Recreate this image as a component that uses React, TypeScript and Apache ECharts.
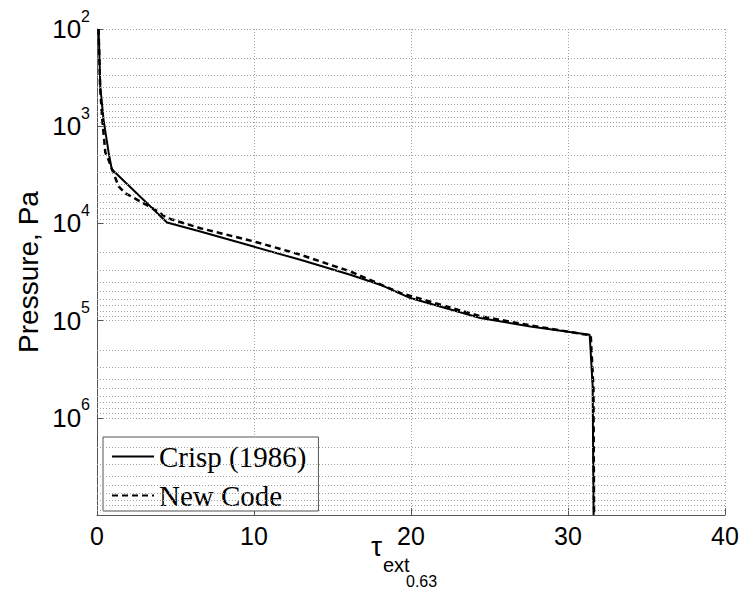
import React, { useEffect, useRef } from "react";
import * as echarts from "echarts";

// Crisp (1986) profile: extinction optical depth vs pressure (Pa)
const crispTau = [0.1, 0.15, 0.21, 0.42, 0.74, 0.94, 4.46, 6.58, 9.97, 12.95, 16.13, 18.04, 19.96, 24.41, 27.6, 31.38, 31.57, 31.63];
const crispP = [100, 178, 395, 865, 1860, 2770, 9800, 12100, 17300, 23700, 33700, 42700, 58600, 94000, 115000, 140000, 470000, 10000000];

// New Code profile
const newTau = [0.1, 0.2, 0.32, 0.53, 0.74, 1.0, 1.38, 1.8, 3.71, 4.46, 6.58, 9.97, 12.95, 16.13, 19.32, 24.4, 27.6, 31.45, 31.62, 31.66];
const newP = [100, 400, 795, 1860, 2230, 2900, 4170, 4890, 7250, 8800, 11200, 15300, 21000, 31200, 52000, 90000, 112000, 142000, 500000, 10000000];

const seriesNames = ["Crisp (1986)", "New Code"];

// Axis ranges
const xMin = 0;
const xMax = 40;
const xStep = 10;
const pMin = 100;
const pMax = 10000000;
const decades = [2, 3, 4, 5, 6];
const minorMultipliers = [2, 3, 4, 5, 6, 7, 8, 9];

const zip = (xs: number[], ys: number[]) => xs.map((x, i) => [x, ys[i]]);

export default function App() {
  const ref = useRef<HTMLDivElement>(null);

  useEffect(() => {
    if (!ref.current) return;
    const chart = echarts.init(ref.current, null, { renderer: "svg" });

    const minorValues: number[] = [];
    decades.forEach((d) => {
      minorMultipliers.forEach((m) => minorValues.push(m * Math.pow(10, d)));
    });

    const gridColor = "#a0a0a0";
    const gridDash = [1, 2];
    const axisColor = "#555";

    const option: any = {
      animation: false,
      backgroundColor: "#fff",
      grid: { left: 97, right: 17, top: 29, bottom: 77, containLabel: false },
      xAxis: {
        type: "value",
        min: xMin,
        max: xMax,
        interval: xStep,
        axisLine: { show: true, onZero: false, lineStyle: { color: axisColor, width: 1 } },
        axisTick: { show: true, inside: true, length: 7, lineStyle: { color: axisColor } },
        axisLabel: {
          margin: 8,
          color: "#000",
          fontFamily: "Liberation Sans",
          fontSize: 25,
          lineHeight: 26,
        },
        splitLine: { show: true, lineStyle: { type: gridDash, color: gridColor, width: 1 } },
      },
      yAxis: {
        type: "log",
        logBase: 10,
        min: pMin,
        max: pMax,
        inverse: true,
        axisLine: { show: true, onZero: false, lineStyle: { color: axisColor, width: 1 } },
        axisTick: { show: true, inside: true, length: 6, lineStyle: { color: axisColor } },
        axisLabel: {
          margin: 7,
          color: "#000",
          formatter: (v: number) => {
            const e = Math.round(Math.log10(v));
            if (e >= 7) return "";
            return `{b|10}{s|${e}}`;
          },
          rich: {
            b: { fontFamily: "Liberation Sans", fontSize: 26, lineHeight: 42, color: "#000" },
            s: { fontFamily: "Liberation Sans", fontSize: 16, lineHeight: 16, verticalAlign: "top", color: "#000" },
          },
        },
        splitLine: { show: true, lineStyle: { type: gridDash, color: gridColor, width: 1 } },
      },
      legend: {
        data: seriesNames,
        orient: "vertical",
        left: 103,
        top: 437,
        backgroundColor: "#fff",
        borderColor: axisColor,
        borderWidth: 1,
        borderRadius: 0,
        padding: [5, 12, 1, 8],
        itemWidth: 42,
        itemHeight: 14,
        itemGap: 10,
        itemStyle: { opacity: 0, color: "transparent", borderWidth: 0 },
        textStyle: { fontFamily: "Liberation Serif", fontSize: 29, lineHeight: 28, color: "#000" },
      },
      graphic: [
        {
          type: "text",
          x: 28,
          y: 272,
          rotation: Math.PI / 2,
          style: {
            text: "Pressure, Pa",
            fontFamily: "Liberation Sans",
            fontSize: 28,
            fill: "#000",
            align: "center",
            verticalAlign: "middle",
          },
        },
        {
          type: "text",
          x: 371,
          y: 546,
          style: { text: "τ", fontFamily: "Liberation Sans", fontSize: 28, fill: "#000", align: "left", verticalAlign: "middle" },
        },
        {
          type: "text",
          x: 383,
          y: 565,
          style: { text: "ext", fontFamily: "Liberation Sans", fontSize: 20, fill: "#000", align: "left", verticalAlign: "middle" },
        },
        {
          type: "text",
          x: 406,
          y: 581,
          style: { text: "0.63", fontFamily: "Liberation Sans", fontSize: 16, fill: "#000", align: "left", verticalAlign: "middle" },
        },
      ],
      series: [
        {
          name: "minor-grid",
          type: "line",
          data: [],
          silent: true,
          z: 1,
          markLine: {
            silent: true,
            symbol: ["none", "none"],
            label: { show: false },
            lineStyle: { type: gridDash, color: gridColor, width: 1 },
            emphasis: { disabled: true },
            data: minorValues.map((v) => ({ yAxis: v })),
          },
        },
        {
          name: seriesNames[0],
          type: "line",
          data: zip(crispTau, crispP),
          showSymbol: false,
          symbol: "none",
          z: 3,
          lineStyle: { color: "#000", width: 2, type: "solid" },
          itemStyle: { color: "#000" },
        },
        {
          name: seriesNames[1],
          type: "line",
          data: zip(newTau, newP),
          showSymbol: false,
          symbol: "none",
          z: 4,
          lineStyle: { color: "#000", width: 2.5, type: [6, 4] },
          itemStyle: { color: "#000" },
        },
      ],
    };

    chart.setOption(option);
    return () => chart.dispose();
  }, []);

  return (
    <div
      ref={ref}
      style={{ position: "absolute", left: 0, top: 0, width: 742, height: 592, background: "#fff" }}
    />
  );
}
